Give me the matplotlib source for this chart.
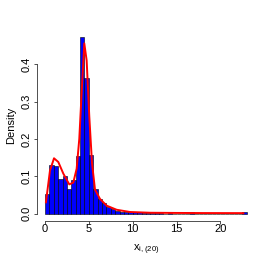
import numpy as np
import matplotlib.pyplot as plt

plt.rcParams['font.family'] = ['Liberation Sans', 'DejaVu Sans']

# Histogram of x_{i,(20)} with density curve

breaks = np.arange(0, 23.5, 0.5)
density = [0.053, 0.129, 0.127, 0.093, 0.100, 0.066, 0.090, 0.153,
           0.473, 0.362, 0.158, 0.066, 0.039, 0.029, 0.017, 0.011,
           0.006, 0.005, 0.004, 0.004, 0.003, 0.003, 0.002, 0.001,
           0.002, 0.001, 0.001, 0.0, 0.001, 0.0, 0.0, 0.0,
           0.0, 0.003, 0.0, 0.0, 0.0, 0.0, 0.0, 0.0,
           0.0, 0.0, 0.0, 0.0, 0.0, 0.003]

kde_x = [0.11, 0.57, 1.03, 1.52, 2.09, 2.77, 3.23, 3.61, 3.91, 4.18,
         4.48, 4.75, 5.05, 5.36, 5.70, 6.27, 7.03, 8.17, 9.7, 12.0,
         15.0, 18.0, 22.6]
kde_y = [0.030, 0.115, 0.148, 0.138, 0.107, 0.078, 0.083, 0.120, 0.200, 0.325,
         0.456, 0.410, 0.260, 0.135, 0.064, 0.039, 0.021, 0.010, 0.004, 0.002,
         0.0015, 0.0012, 0.001]

fig = plt.figure(figsize=(2.58, 2.58), dpi=100)
ax = fig.add_axes([0.143, 0.145, 0.845, 0.739])

ax.bar(breaks[:-1], density, width=0.5, align='edge', color='blue',
       edgecolor='black', linewidth=0.4)
ax.plot(kde_x, kde_y, color='red', linewidth=1.4)

ax.set_xlim(-0.92, 23.92)
ax.set_ylim(-0.019, 0.492)

# R-like axes: no box, axis lines only across the tick range
for s in ['top', 'right']:
    ax.spines[s].set_visible(False)
ax.spines['left'].set_bounds(0, 0.4)
ax.spines['bottom'].set_bounds(0, 20)
for s in ['left', 'bottom']:
    ax.spines[s].set_linewidth(0.6)
    ax.spines[s].set_color('#333333')

ax.set_xticks([0, 5, 10, 15, 20])
ax.set_yticks([0.0, 0.1, 0.2, 0.3, 0.4])
ax.set_yticklabels(['0.0', '0.1', '0.2', '0.3', '0.4'], rotation=90, va='center')
ax.tick_params(labelsize=8, length=2.3, width=0.6, color='#333333')
ax.tick_params(axis='x', pad=0.5)
ax.tick_params(axis='y', pad=1.5)

ax.set_ylabel('Density', fontsize=8)
ax.set_xlabel(r'$\mathregular{x_{i,(20)}}$', fontsize=8)
ax.yaxis.set_label_coords(-0.117, 0.5)
ax.xaxis.set_label_coords(0.5, -0.154)
ax.xaxis.label.set_va('center')
ax.yaxis.label.set_va('center')

plt.savefig('out.png', dpi=100)
